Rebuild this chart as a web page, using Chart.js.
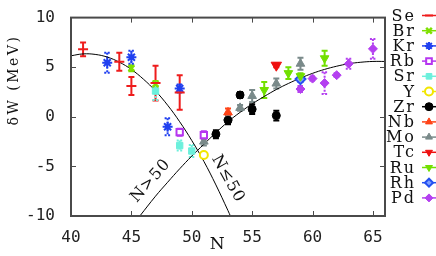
<!DOCTYPE html>
<html>
<head>
<meta charset="utf-8">
<script src="https://cdn.jsdelivr.net/npm/chart.js@4.4.0/dist/chart.umd.min.js"></script>
<style>
  html, body { margin: 0; padding: 0; background: #fff; }
  #wrap { width: 436px; height: 256px; position: relative; }
</style>
</head>
<body>
<div id="wrap"><canvas id="dw" width="436" height="256"></canvas></div>
<script>
// element labels and colours (legend order)
const elements = ['Se', 'Br', 'Kr', 'Rb', 'Sr', 'Y', 'Zr', 'Nb', 'Mo', 'Tc', 'Ru', 'Rh', 'Pd'];
const colors = ['#ee1c1c', '#7ee000', '#2040f0', '#b636f0', '#6cf0dc', '#f2e600',
                '#000000', '#ff4418', '#7a8a8a', '#ee1010', '#72e000', '#2450f0', '#b440f0'];

// [N, deltaW (MeV), error]
const SE = [[41, 6.8, 0.7], [44, 5.55, 0.9], [45, 3.1, 0.9], [47, 3.4, 1.75], [49, 2.45, 1.75]];
const BR = [[45, 4.9, 0.3], [47, 3.3, 0.3]];
const KR = [[43, 5.45, 1.0], [45, 6.0, 0.65], [48, -1.0, 0.85], [49, 2.85, 0.4]];
const RB = [[49, -1.55, 0.35], [51, -1.85, 0.4]];
const SR = [[47, 2.6, 0.9], [49, -2.9, 0.5], [50, -3.45, 0.6]];
const YY = [[51, -3.85, 0.2]];
const ZR = [[52, -1.75, 0.4], [53, -0.35, 0.4], [54, 2.2, 0.3], [55, 0.77, 0.5], [57, 0.12, 0.5]];
const NB = [[53, 0.44, 0.4]];
const MO = [[51, -2.5, 0.4], [53, -0.05, 0.4], [54, 0.9, 0.3], [55, 2.1, 0.6], [57, 3.35, 0.5], [59, 5.35, 0.6]];
const TC = [[57, 5.2, 0.2]];
const RU = [[56, 2.7, 0.8], [58, 4.4, 0.6], [59, 4.1, 0.3], [61, 5.9, 0.75]];
const RH = [[59, 3.8, 0.3]];
const PD = [[59, 2.8, 0.3], [60, 3.85, 0.2], [61, 3.4, 1.1], [62, 4.2, 0.2], [63, 5.35, 0.5], [65, 6.85, 1.0]];
const points = [SE, BR, KR, RB, SR, YY, ZR, NB, MO, TC, RU, RH, PD];

// marker look for each element
const styles = [
  { pointStyle: 'line', radius: 5, borderWidth: 2 },
  { pointStyle: 'crossRot', radius: 4, borderWidth: 2.5 },
  { pointStyle: 'star', radius: 5, borderWidth: 2 },
  { pointStyle: 'rect', radius: 4.5, borderWidth: 2, fill: '#fff' },
  { pointStyle: 'rect', radius: 4.5, borderWidth: 1 },
  { pointStyle: 'circle', radius: 4, borderWidth: 2, fill: '#fff' },
  { pointStyle: 'circle', radius: 4, borderWidth: 1 },
  { pointStyle: 'triangle', radius: 5, borderWidth: 1 },
  { pointStyle: 'triangle', radius: 5, borderWidth: 1 },
  { pointStyle: 'triangle', radius: 6, borderWidth: 1, rotation: 180 },
  { pointStyle: 'triangle', radius: 5, borderWidth: 1, rotation: 180 },
  { pointStyle: 'rectRot', radius: 5, borderWidth: 2, fill: '#7fa0ff' },
  { pointStyle: 'rectRot', radius: 4.5, borderWidth: 1 }
];
const dotted = ['Kr', 'Sr', 'Pd'];

// the two shell-correction curves
const lowN = [40, 41, 42, 43, 44, 45, 46, 47, 48, 49, 50, 51, 52, 53, 53.2];
const lowW = [6.15, 6.34, 6.29, 6.02, 5.51, 4.77, 3.79, 2.6, 1.17, -0.5, -2.39, -4.49, -6.87, -9.46, -10];
const highN = [45.7, 47, 48, 49, 50, 51, 52, 53, 54, 55, 56, 57, 58, 59, 60, 61, 62, 63, 64, 65, 66];
const highW = [-10, -8.0, -6.6, -5.24, -3.96, -2.77, -1.6, -0.5, 0.45, 1.3, 2.05, 2.75, 3.36, 3.9, 4.38, 4.78, 5.1, 5.35, 5.5, 5.58, 5.58];

const xTicks = [40, 45, 50, 55, 60, 65];
const yTicks = [-10, -5, 0, 5, 10];

const datasets = elements.map((el, i) => ({
  label: el,
  data: points[i].map(p => ({ x: p[0], y: p[1] })),
  err: points[i].map(p => p[2]),
  showLine: false,
  pointStyle: styles[i].pointStyle,
  pointRadius: styles[i].radius,
  pointRotation: styles[i].rotation || 0,
  pointBorderWidth: styles[i].borderWidth,
  pointBorderColor: colors[i],
  pointBackgroundColor: styles[i].fill || colors[i],
  borderColor: colors[i],
  backgroundColor: colors[i]
}));

function curve(xs, ys, name) {
  return {
    label: name,
    data: xs.map((x, i) => ({ x: x, y: ys[i] })),
    showLine: true,
    borderColor: '#000',
    borderWidth: 1,
    pointRadius: 0,
    tension: 0.4
  };
}
datasets.push(curve(lowN, lowW, 'N<=50'));
datasets.push(curve(highN, highW, 'N>50'));

// error bars under the markers
const errorBars = {
  id: 'errorBars',
  beforeDatasetsDraw(chart) {
    const ctx = chart.ctx, xs = chart.scales.x, ys = chart.scales.y;
    ctx.save();
    chart.data.datasets.forEach((ds, i) => {
      if (!ds.err) return;
      ctx.strokeStyle = colors[i];
      ctx.lineWidth = 2;
      ctx.setLineDash(dotted.includes(ds.label) ? [2, 1.5] : []);
      ds.data.forEach((p, j) => {
        const e = ds.err[j];
        const x = xs.getPixelForValue(p.x);
        const y1 = ys.getPixelForValue(p.y + e), y2 = ys.getPixelForValue(p.y - e);
        ctx.beginPath();
        ctx.moveTo(x, y1); ctx.lineTo(x, y2);
        ctx.moveTo(x - 3, y1); ctx.lineTo(x + 3, y1);
        ctx.moveTo(x - 3, y2); ctx.lineTo(x + 3, y2);
        ctx.stroke();
      });
    });
    ctx.restore();
  }
};

// frame, inner ticks, titles, curve labels and the legend
const decor = {
  id: 'decor',
  afterDraw(chart) {
    const ctx = chart.ctx, a = chart.chartArea, xs = chart.scales.x, ys = chart.scales.y;
    ctx.save();
    ctx.strokeStyle = '#4a4a4a';
    ctx.lineWidth = 2;
    ctx.strokeRect(a.left, a.top, a.right - a.left, a.bottom - a.top);
    ctx.lineWidth = 1;
    ctx.beginPath();
    xTicks.slice(1).forEach(v => {
      const x = Math.round(xs.getPixelForValue(v)) + 0.5;
      ctx.moveTo(x, a.bottom); ctx.lineTo(x, a.bottom - 5);
      ctx.moveTo(x, a.top); ctx.lineTo(x, a.top + 5);
    });
    yTicks.slice(1, -1).forEach(v => {
      const y = Math.round(ys.getPixelForValue(v)) + 0.5;
      ctx.moveTo(a.left, y); ctx.lineTo(a.left + 5, y);
      ctx.moveTo(a.right, y); ctx.lineTo(a.right - 5, y);
    });
    ctx.stroke();

    ctx.fillStyle = '#111';
    ctx.textAlign = 'center';
    ctx.textBaseline = 'middle';
    ctx.font = '17px "DejaVu Serif"';
    ctx.fillText('N', xs.getPixelForValue(52.1), 245);

    ctx.save();
    ctx.translate(14, 80);
    ctx.rotate(-Math.PI / 2);
    ctx.letterSpacing = '2.5px';
    ctx.font = '14px "DejaVu Serif"';
    ctx.fillText('δW (MeV)', 0, 0);
    ctx.restore();

    ctx.font = '16px "DejaVu Serif"';
    ctx.letterSpacing = '1px';
    ctx.save();
    ctx.translate(xs.getPixelForValue(46.6), ys.getPixelForValue(-6.45));
    ctx.rotate(-48.5 * Math.PI / 180);
    ctx.fillText('N>50', 0, 0);
    ctx.restore();
    ctx.save();
    ctx.translate(xs.getPixelForValue(53.0), ys.getPixelForValue(-6.25));
    ctx.rotate(61 * Math.PI / 180);
    ctx.fillText('N≤50', 0, 0);
    ctx.restore();

    // legend
    ctx.letterSpacing = '2px';
    ctx.textAlign = 'right';
    ctx.font = '16px "DejaVu Serif"';
    elements.forEach((el, i) => {
      const y = 15.5 + i * 15.2;
      ctx.fillStyle = '#111';
      ctx.fillText(el, 416, y + 1);
      ctx.strokeStyle = colors[i];
      ctx.lineWidth = 1.5;
      ctx.beginPath();
      ctx.moveTo(422, y); ctx.lineTo(437, y);
      ctx.stroke();
      ctx.fillStyle = styles[i].fill || colors[i];
      ctx.lineWidth = styles[i].borderWidth;
      Chart.helpers.drawPoint(ctx, {
        pointStyle: styles[i].pointStyle,
        radius: Math.min(styles[i].radius, 4),
        rotation: styles[i].rotation || 0,
        borderWidth: styles[i].borderWidth
      }, 429, y);
    });
    ctx.restore();
  }
};

new Chart(document.getElementById('dw'), {
  type: 'scatter',
  data: { datasets: datasets },
  options: {
    responsive: false,
    animation: false,
    events: [],
    layout: { padding: { left: 0, right: 51, top: 13, bottom: 0 } },
    plugins: { legend: { display: false }, tooltip: { enabled: false } },
    scales: {
      x: {
        type: 'linear', min: 40, max: 66,
        grid: { display: false }, border: { display: false },
        afterBuildTicks: s => { s.ticks = xTicks.map(v => ({ value: v })); },
        afterFit: s => { s.height = 40; },
        ticks: { padding: 4, color: '#222', font: { family: 'DejaVu Sans Mono', size: 16 }, maxRotation: 0 }
      },
      y: {
        type: 'linear', min: -10, max: 10,
        grid: { display: false }, border: { display: false },
        afterBuildTicks: s => { s.ticks = yTicks.map(v => ({ value: v })); },
        afterFit: s => { s.width = 71; },
        ticks: { padding: 8, color: '#222', font: { family: 'DejaVu Sans Mono', size: 16 } }
      }
    }
  },
  plugins: [errorBars, decor]
});
</script>
</body>
</html>
